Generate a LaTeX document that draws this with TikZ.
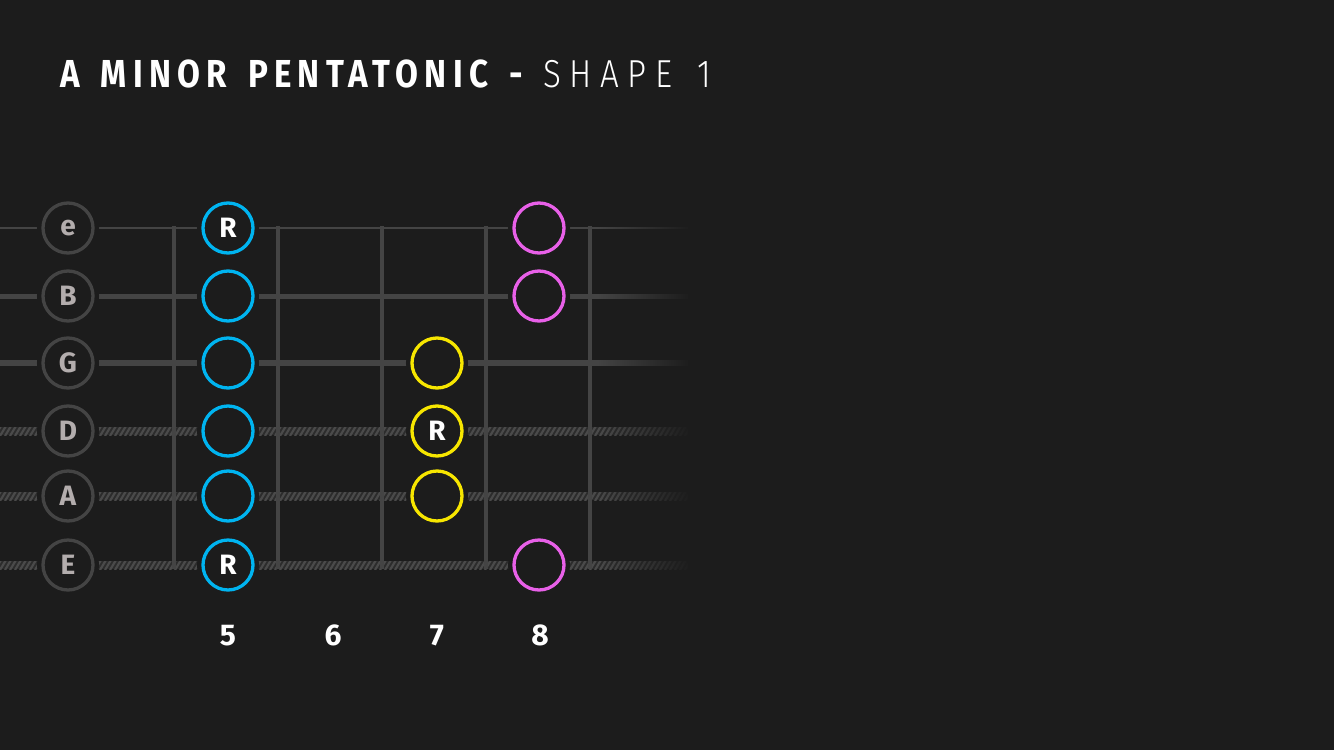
\documentclass[tikz,border=0pt]{standalone}
\usepackage{fontspec}
\setmainfont{Fira Sans}
\newfontfamily\titlefont{Fira Sans}[FakeStretch=0.85,LetterSpace=16,WordSpace=1.5]
\newfontfamily\lightfont{Fira Sans Light}[FakeStretch=0.85,LetterSpace=22,WordSpace=1.4]
\usetikzlibrary{fadings}
\definecolor{bg}{HTML}{1C1C1C}
\definecolor{strc}{HTML}{444444}
\definecolor{woundbase}{HTML}{2C2C2C}
\definecolor{woundline}{HTML}{4A4A4A}
\definecolor{labc}{HTML}{B3ADAD}
\definecolor{noteblue}{HTML}{00B4F0}
\definecolor{noteyellow}{HTML}{F7E600}
\definecolor{notemag}{HTML}{E860E8}
\tikzset{
  ring/.style={circle, minimum size=50pt, inner sep=0pt, line width=3.3pt, fill=bg,
    preaction={draw=bg, line width=12pt}},
  openc/.style={ring, draw=strc, text=labc, font=\bfseries\fontsize{28}{28}\selectfont},
  bluec/.style={ring, draw=noteblue, text=white, font=\bfseries\fontsize{28}{28}\selectfont},
  yellowc/.style={ring, draw=noteyellow, text=white, font=\bfseries\fontsize{28}{28}\selectfont},
  magc/.style={ring, draw=notemag, text=white, font=\bfseries\fontsize{28}{28}\selectfont},
  fretline/.style={draw=strc, line width=4pt},
  fretnum/.style={anchor=base, text=white, font=\bfseries\fontsize{30}{30}\selectfont},
}
\begin{document}
\begin{tikzpicture}[x=1pt,y=-1pt]
\fill[bg] (0,0) rectangle (1334,750);
\useasboundingbox (0,0) rectangle (1334,750);
% title
\node[anchor=base west, inner sep=0pt, text=white, font=\titlefont\bfseries\fontsize{39}{39}\selectfont] (title) at (60,87) {A MINOR PENTATONIC -};
\node[anchor=base west, inner sep=0pt, text=white, font=\lightfont\fontsize{39}{39}\selectfont] (subtitle) at (543,87) {SHAPE 1};
% plain strings
\draw[strc, line width=2.5pt] (0,228) -- (688,228);
\draw[strc, line width=5pt] (0,296) -- (688,296);
\draw[strc, line width=6pt] (0,363) -- (688,363);
% wound strings
\foreach \yy in {431,496,565}{
  \fill[woundbase] (0,\yy-4) rectangle (688,\yy+4);
  \begin{scope}
    \clip (0,\yy-4) rectangle (688,\yy+4);
    \foreach \xx in {-10,-5,...,690}{
      \draw[woundline, line width=2.2pt] (\xx,\yy+5) -- (\xx+6,\yy-5);
    }
  \end{scope}
}
% fade at the right end
\fill[bg, path fading=west] (598,210) rectangle (692,580);
% frets
\foreach \fx/\nm in {174/f4,278/f5,382/f6,486/f7,590/f8}{
  \coordinate (\nm top) at (\fx,226);
  \coordinate (\nm bot) at (\fx,569);
  \draw[fretline] (\nm top) -- (\nm bot);
}
% open string labels
\node[openc] (le) at (68,228) {e};
\node[openc] (lB) at (68,296) {B};
\node[openc] (lG) at (68,363) {G};
\node[openc] (lD) at (68,431) {D};
\node[openc] (lA) at (68,496) {A};
\node[openc] (lE) at (68,565) {E};
% fret 5 (blue)
\node[bluec] (n5e) at (228,228) {R};
\node[bluec] (n5B) at (228,296) {};
\node[bluec] (n5G) at (228,363) {};
\node[bluec] (n5D) at (228,431) {};
\node[bluec] (n5A) at (228,496) {};
\node[bluec] (n5E) at (228,565) {R};
% fret 7 (yellow)
\node[yellowc] (n7G) at (437,363) {};
\node[yellowc] (n7D) at (437,431) {R};
\node[yellowc] (n7A) at (437,496) {};
% fret 8 (magenta)
\node[magc] (n8e) at (539,228) {};
\node[magc] (n8B) at (539,296) {};
\node[magc] (n8E) at (539,565) {};
% fret numbers
\node[fretnum] (num5) at (228,645) {5};
\node[fretnum] (num6) at (333,645) {6};
\node[fretnum] (num7) at (437,645) {7};
\node[fretnum] (num8) at (540,645) {8};
\end{tikzpicture}
\end{document}
